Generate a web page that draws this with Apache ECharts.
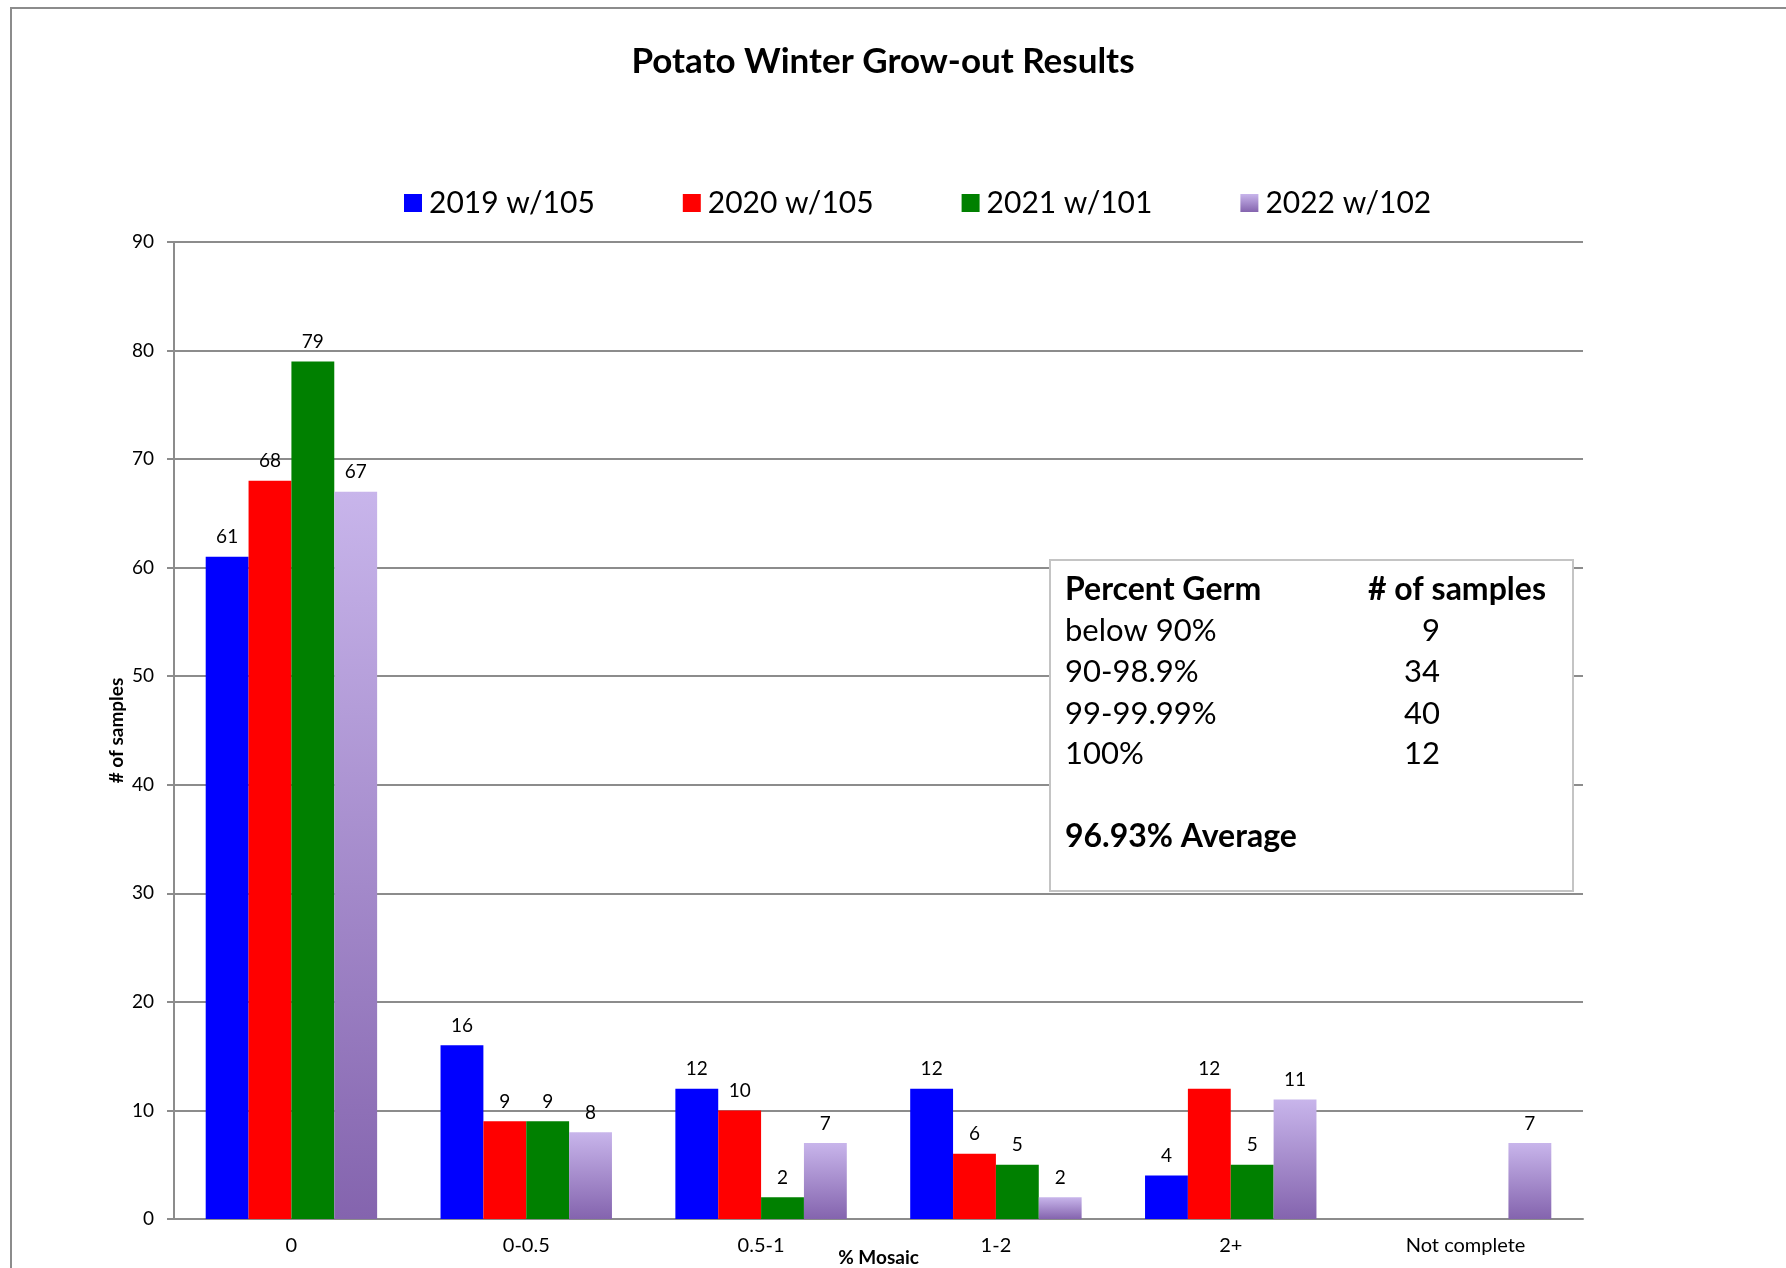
<!DOCTYPE html>
<html>
<head>
<meta charset="utf-8">
<script src="https://cdn.jsdelivr.net/npm/echarts@6/dist/echarts.min.js"></script>
<style>
html,body{margin:0;padding:0;background:#fff;}
#chart{width:1786px;height:1268px;}
</style>
</head>
<body>
<div id="chart"></div>
<script>
const categories = ["0", "0-0.5", "0.5-1", "1-2", "2+", "Not complete"];
const seriesNames = ["2019 w/105", "2020 w/105", "2021 w/101", "2022 w/102"];
const s2019 = [61, 16, 12, 12, 4, null];
const s2020 = [68, 9, 10, 6, 12, null];
const s2021 = [79, 9, 2, 5, 5, null];
const s2022 = [67, 8, 7, 2, 11, 7];
const yTicks = [0, 10, 20, 30, 40, 50, 60, 70, 80, 90];
const germLabels = ["below 90%", "90-98.9%", "99-99.99%", "100%"];
const germCounts = ["9", "34", "40", "12"];
const germAverage = "96.93% Average";

const FONT = "Lato";
const chart = echarts.init(document.getElementById('chart'));

const purple = new echarts.graphic.LinearGradient(0, 0, 0, 1, [
  {offset: 0, color: '#C8B5EB'},
  {offset: 1, color: '#8464AE'}
]);
const colors = ['#0000FF', '#FF0000', '#008000', purple];
const dataSets = [s2019, s2020, s2021, s2022];

const series = dataSets.map((d, i) => ({
  name: seriesNames[i],
  type: 'bar',
  data: d,
  barGap: '0%',
  barCategoryGap: '27%',
  itemStyle: { color: colors[i] },
  label: {
    show: true,
    position: 'top',
    distance: 10,
    color: '#000',
    fontFamily: FONT,
    fontSize: 19
  }
}));

// Text box graphic
const boxX = 1050, boxY = 560, boxW = 523, boxH = 331;
const rowYs = [631, 672, 714, 754];
const Z = 100;
const boxChildren = [
  { type: 'rect', z: Z, shape: { x: boxX, y: boxY, width: boxW, height: boxH },
    style: { fill: '#fff', stroke: '#c4c4c4', lineWidth: 2 } },
  { type: 'text', z: Z + 1, x: 1065, y: 590, style: { text: 'Percent Germ', font: 'bold 32px ' + FONT, fill: '#000', verticalAlign: 'middle' } },
  { type: 'text', z: Z + 1, x: 1368, y: 590, style: { text: '# of samples', font: 'bold 32px ' + FONT, fill: '#000', verticalAlign: 'middle' } },
  { type: 'text', z: Z + 1, x: 1065, y: 837, style: { text: germAverage, font: 'bold 32px ' + FONT, fill: '#000', verticalAlign: 'middle' } }
];
germLabels.forEach((l, i) => {
  boxChildren.push({ type: 'text', z: Z + 1, x: 1065, y: rowYs[i], style: { text: l, font: '31px ' + FONT, fill: '#000', verticalAlign: 'middle' } });
  boxChildren.push({ type: 'text', z: Z + 1, x: 1440, y: rowYs[i], style: { text: germCounts[i], font: '31px ' + FONT, fill: '#000', verticalAlign: 'middle', align: 'right' } });
});

const option = {
  backgroundColor: '#fff',
  animation: false,
  title: {
    text: 'Potato Winter Grow-out Results',
    left: 878,
    textAlign: 'center',
    top: 39,
    textStyle: { fontFamily: FONT, fontWeight: 'bold', fontSize: 35, color: '#000' }
  },
  legend: {
    data: seriesNames,
    left: 399,
    top: 183,
    icon: 'rect',
    itemWidth: 18,
    itemHeight: 18,
    itemGap: 88,
    textStyle: { fontFamily: FONT, fontSize: 30, color: '#000', padding: [0, 0, 0, 2] }
  },
  grid: { left: 174, right: 203, top: 242, bottom: 49, containLabel: false, outerBoundsMode: 'none' },
  xAxis: {
    type: 'category',
    data: categories,
    name: '% Mosaic',
    nameLocation: 'middle',
    nameGap: 29,
    nameMoveOverlap: false,
    nameTextStyle: { fontFamily: FONT, fontWeight: 'bold', fontSize: 19, color: '#000' },
    axisLine: { lineStyle: { color: '#8c8c8c', width: 2 } },
    axisTick: { show: false },
    axisLabel: { fontFamily: FONT, fontSize: 20, color: '#000', margin: 17, interval: 0 }
  },
  yAxis: {
    type: 'value',
    min: yTicks[0],
    max: yTicks[yTicks.length - 1],
    interval: 10,
    name: '# of samples',
    nameLocation: 'middle',
    nameGap: 48,
    nameRotate: 90,
    nameMoveOverlap: false,
    nameTextStyle: { fontFamily: FONT, fontWeight: 'bold', fontSize: 19, color: '#000' },
    axisLine: { show: true, lineStyle: { color: '#8c8c8c', width: 2 } },
    axisTick: { show: true, length: 7, lineStyle: { color: '#8c8c8c', width: 2 } },
    splitLine: { lineStyle: { color: '#8c8c8c', width: 2 } },
    axisLabel: { fontFamily: FONT, fontSize: 19, color: '#000', margin: 20 }
  },
  series: series,
  graphic: [
    { type: 'rect', shape: { x: 11, y: 8, width: 2000, height: 2000 },
      style: { fill: 'none', stroke: '#8c8c8c', lineWidth: 2 }, z: 100, silent: true },
    { type: 'group', children: boxChildren, z: 100 }
  ]
};
chart.setOption(option);
</script>
</body>
</html>
